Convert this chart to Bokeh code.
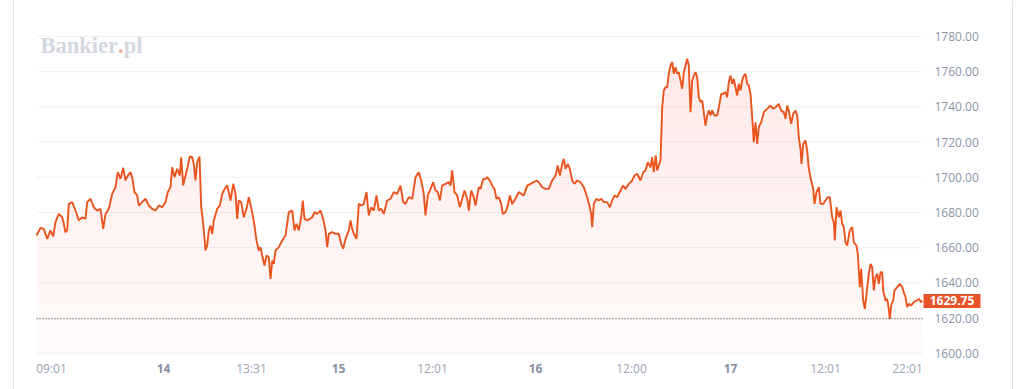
import numpy as np
from bokeh.plotting import figure
from bokeh.models import Range1d, Span
from bokeh.core.properties import value
from bokeh.embed import file_html
from bokeh.resources import INLINE

# session index (trading-time axis) and price
t = [0.0, 4.0, 7.3, 10.7, 14.0, 16.7, 19.0, 22.3, 25.7, 27.3,
     29.0, 30.7, 32.3, 35.7, 39.0, 42.3, 45.7, 49.0, 50.7, 54.0,
     57.3, 60.7, 64.0, 66.7, 69.0, 72.3, 75.7, 79.0, 81.3, 84.0,
     86.7, 89.0, 91.3, 94.0, 95.7, 98.0, 100.7, 102.3, 105.7, 109.0,
     112.3, 115.7, 119.0, 122.3, 125.7, 129.0, 131.3, 134.0, 135.7, 138.0,
     140.7, 143.3, 144.7, 146.7, 149.0, 150.7, 153.3, 155.7, 157.3, 159.0,
     160.7, 163.0, 164.7, 166.7, 169.0, 170.7, 172.3, 174.0, 175.7, 177.3,
     180.7, 183.3, 185.7, 187.3, 190.7, 192.3, 194.0, 196.7, 199.0, 200.7,
     202.3, 204.7, 207.3, 210.0, 212.3,
     215.7, 218.0, 220.0, 222.3, 224.0, 225.7, 228.0, 230.0, 232.3, 234.0,
     235.7, 237.3, 239.0, 242.3, 245.7, 249.0, 252.3, 255.7, 258.0, 260.0,
     262.3, 264.7, 266.3, 268.0, 270.7, 273.3, 275.7, 278.0, 280.7, 284.0,
     286.7, 289.0, 290.7, 292.3, 295.7, 299.0, 302.3, 304.7, 306.7, 309.0,
     312.3, 314.0, 315.7, 317.3, 320.0, 322.3, 324.7, 327.3, 330.0, 332.3,
     334.7, 337.3, 340.0, 342.3, 344.7, 347.3, 350.7, 354.0, 357.3, 360.7,
     364.0, 366.7, 369.0, 372.3, 375.7, 379.0, 382.3, 384.7, 387.3, 389.0,
     391.3, 394.0, 396.7, 399.0, 401.3, 403.3, 405.7, 409.0, 412.3, 414.0,
     415.7, 418.0, 420.7, 423.3, 425.7, 428.0, 430.7, 432.3, 434.7, 437.3,
     439.0, 442.3, 444.0,
     446.7, 449.0, 450.7, 453.3, 455.7, 458.0, 460.0, 462.3, 464.7, 466.3,
     469.0, 471.3, 473.3, 475.7, 479.0, 482.3, 484.7, 487.3, 490.7, 494.0,
     497.3, 500.0, 502.3, 505.7, 509.0, 512.3, 515.7, 519.0, 521.3, 523.3,
     525.7, 527.3, 529.0, 531.3, 533.3, 535.7, 538.0, 540.7, 544.0, 547.3,
     550.7, 553.3, 554.7, 555.7, 557.3, 560.0, 562.3, 564.7, 567.3, 570.7,
     573.3, 575.7, 578.0, 580.7, 584.0, 586.7, 589.0, 592.3, 595.7, 598.0,
     600.7, 604.0, 606.7, 609.0, 611.3, 614.0, 615.7, 617.3, 619.3, 620.7,
     622.3, 624.0, 625.7, 627.3, 629.0, 630.7, 632.3, 634.0, 635.7, 637.3,
     639.0, 640.7, 642.3, 644.0, 645.7, 647.3, 649.0, 650.7, 652.3, 654.0,
     655.7, 657.3, 659.0, 660.7, 662.3, 664.0, 665.7, 667.3, 669.0, 670.7,
     672.3, 674.0, 675.7, 678.0, 680.7, 683.3, 684.7, 686.7, 689.0, 690.7,
     692.3, 694.0, 695.7, 697.3, 699.0, 700.7, 702.3, 704.0, 705.7, 707.3,
     709.0, 710.7, 712.3, 714.0, 715.7, 717.3, 719.0, 720.7, 722.3, 724.7,
     727.3, 730.7, 734.0, 736.7, 739.0, 742.3, 744.7, 747.3, 749.0, 750.7,
     752.3, 754.7, 756.7, 759.0, 760.7, 762.3, 764.0, 765.0, 766.7, 769.0,
     770.7, 772.3, 774.7, 776.7, 778.0, 780.0, 782.3, 784.0, 786.7, 789.0,
     791.3, 793.3, 795.7, 797.3, 798.3, 800.0, 802.3, 804.0, 805.7, 807.3,
     809.0, 810.7, 813.3, 815.7, 817.3, 820.0, 821.3, 823.3, 824.7, 826.7,
     828.3, 830.0, 832.3, 834.0, 835.7, 837.3, 839.0, 840.7, 842.3, 844.0,
     845.7, 846.7, 849.0, 850.7, 852.3, 853.3, 855.0, 856.7, 858.0, 860.7,
     863.3, 865.7, 867.3, 869.0, 870.7, 872.3, 874.7, 877.3, 880.0, 882.3,
     884.7, 885.7]

price = [1666.9, 1671.3, 1670.7, 1665.0, 1669.8, 1666.4, 1674.5, 1679.2, 1677.3, 1673.6,
         1668.8, 1669.8, 1684.9, 1685.9, 1681.1, 1675.5, 1677.3, 1676.4, 1685.9, 1687.8,
         1683.0, 1681.1, 1682.1, 1670.7, 1679.2, 1682.1, 1690.6, 1694.4, 1702.9, 1699.1,
         1705.4, 1698.2, 1701.0, 1702.9, 1700.1, 1691.6, 1689.7, 1684.0, 1685.9, 1687.8,
         1684.0, 1682.1, 1681.1, 1684.0, 1683.0, 1685.9, 1691.6, 1694.4, 1705.7, 1700.1,
         1704.8, 1701.0, 1711.4, 1695.4, 1701.0, 1704.8, 1711.8, 1711.4, 1707.7, 1698.2,
         1708.6, 1711.8, 1683.0, 1673.6, 1658.4, 1661.3, 1669.8, 1672.6, 1667.9, 1675.5,
         1682.1, 1684.0, 1690.6, 1692.5, 1695.4, 1691.6, 1686.8, 1696.3, 1690.6, 1676.4,
         1686.8, 1685.9, 1677.3, 1682.1, 1688.7,
         1680.2, 1672.6, 1664.1, 1658.4, 1660.3, 1655.6, 1649.9, 1655.6, 1654.6, 1642.3,
         1652.7, 1650.8, 1658.4, 1660.3, 1664.1, 1666.9, 1680.2, 1681.1, 1669.8, 1673.6,
         1669.8, 1677.3, 1686.8, 1676.4, 1675.5, 1676.4, 1677.3, 1680.2, 1679.2, 1681.1,
         1676.4, 1669.8, 1660.3, 1667.9, 1668.8, 1667.9, 1667.9, 1662.2, 1659.4, 1665.0,
         1669.8, 1675.5, 1670.7, 1667.9, 1665.0, 1684.9, 1684.0, 1684.9, 1691.6, 1678.3,
         1683.0, 1681.1, 1689.7, 1681.1, 1682.1, 1679.2, 1686.8, 1687.8, 1691.6, 1690.6,
         1695.3, 1685.9, 1684.9, 1688.7, 1687.8, 1700.1, 1702.9, 1698.2, 1690.6, 1678.3,
         1689.7, 1693.4, 1697.2, 1692.5, 1691.6, 1686.8, 1695.3, 1696.3, 1697.2, 1695.3,
         1703.9, 1691.6, 1689.7, 1683.0, 1687.8, 1692.5, 1687.8, 1681.1, 1692.5, 1688.7,
         1684.0, 1694.4, 1693.4,
         1699.1, 1699.1, 1700.1, 1698.2, 1695.3, 1693.4, 1687.8, 1688.7, 1684.9, 1679.2,
         1680.2, 1683.9, 1689.7, 1684.9, 1687.8, 1691.6, 1690.6, 1689.7, 1695.3, 1696.3,
         1697.2, 1698.2, 1697.2, 1694.4, 1693.4, 1693.4, 1698.2, 1701.0, 1706.7, 1701.0,
         1707.6, 1710.5, 1704.8, 1707.6, 1704.8, 1698.2, 1696.3, 1698.2, 1697.2, 1694.4,
         1688.7, 1683.0, 1679.2, 1671.7, 1684.9, 1687.8, 1686.8, 1687.8, 1685.9, 1685.9,
         1683.0, 1686.8, 1689.7, 1688.7, 1692.5, 1695.3, 1693.4, 1696.3, 1698.2, 1701.0,
         1702.0, 1698.2, 1702.9, 1703.9, 1708.6, 1705.7, 1711.4, 1702.9, 1712.4, 1703.9,
         1706.7, 1709.5, 1739.8, 1749.3, 1751.2, 1751.2, 1758.8, 1763.5, 1765.4, 1758.8,
         1762.6, 1758.8, 1759.7, 1755.0, 1750.3, 1759.7, 1763.5, 1767.3, 1763.5, 1737.0,
         1755.0, 1757.8, 1759.7, 1756.9, 1745.5, 1742.7, 1743.6, 1737.0, 1729.4, 1735.1,
         1738.0, 1735.1, 1738.0, 1735.1, 1735.1, 1742.7, 1747.4, 1747.4, 1748.4, 1745.5,
         1754.1, 1757.8, 1753.1, 1755.9, 1751.2, 1746.5, 1753.1, 1749.3, 1755.0, 1757.8,
         1758.8, 1753.1, 1752.2, 1747.4, 1734.2, 1720.0, 1731.3, 1719.0, 1728.5, 1731.3,
         1737.0, 1738.9, 1740.8, 1738.9, 1739.8, 1741.7, 1737.9, 1737.0, 1733.2, 1740.8,
         1737.9, 1730.4, 1736.1, 1737.9, 1735.1, 1722.8, 1716.2, 1707.6, 1719.0, 1720.9,
         1715.2, 1704.8, 1698.2, 1693.4, 1684.9, 1691.6, 1694.4, 1684.9, 1684.9, 1686.8,
         1688.7, 1688.7, 1677.3, 1674.5, 1664.1, 1683.0, 1677.3, 1681.1, 1673.6, 1671.7,
         1663.1, 1661.2, 1669.8, 1671.7, 1663.1, 1661.2, 1656.5, 1637.6, 1648.0, 1630.0,
         1625.3, 1633.8, 1645.2, 1650.8, 1648.9, 1635.7, 1643.3, 1645.2, 1639.5, 1646.1,
         1646.1, 1635.7, 1630.0, 1630.9, 1625.3, 1619.6, 1628.1, 1630.0, 1635.7, 1637.6,
         1639.5, 1637.6, 1634.7, 1631.9, 1626.2, 1628.1, 1627.2, 1629.1, 1630.0, 1630.9,
         1629.1, 1629.75]

x_tick_pos = [15, 127, 215, 302, 396, 499, 595, 694, 789, 871]
x_tick_labels = ["09:01", "14", "13:31", "15", "12:01", "16", "12:00", "17", "12:01", "22:01"]
day_labels = ["14", "15", "16", "17"]
y_ticks = [1600, 1620, 1640, 1660, 1680, 1700, 1720, 1740, 1760, 1780]
y_tick_labels = [f"{v:.2f}" for v in y_ticks]

# ---- layout constants (pixels) ----
W, H = 1024, 389
PLOT_LEFT = 36          # pixel where t=0 sits
PLOT_W = 886            # plotted width in t units (1 unit = 1 px)
PX_PER_VAL = 1.76       # vertical pixels per price unit
TOP_GRID_PX = 36        # pixel of the top grid line from canvas top
TOP_VAL = y_ticks[-1]


def val_at(px_from_top):
    return TOP_VAL - (px_from_top - TOP_GRID_PX) / PX_PER_VAL


ORANGE = "#e9541f"
FONT = value("Open Sans")

t_arr = np.array(t)
p_arr = np.array(price)
base = y_ticks[0]

p = figure(width=W, height=H,
           x_range=Range1d(-PLOT_LEFT, W - PLOT_LEFT),
           y_range=Range1d(val_at(H), val_at(0)),
           output_backend="svg", toolbar_location=None,
           x_axis_location=None, y_axis_location=None,
           min_border=0)
p.background_fill_color = "white"
p.border_fill_color = "white"
p.outline_line_color = None
p.grid.visible = False

# container borders
for bx in (13 - PLOT_LEFT, 1012 - PLOT_LEFT):
    p.add_layout(Span(location=bx, dimension="height", line_color="#e4e4e4", line_width=1))

# horizontal grid lines
p.segment(x0=0, x1=PLOT_W, y0=y_ticks, y1=y_ticks, line_color="#f1f1f1", line_width=1)

# gradient-like fill under the line
p.varea(x=t_arr, y1=base, y2=p_arr, fill_color=ORANGE, fill_alpha=0.016)
for lvl in np.arange(base, TOP_VAL, 9):
    p.varea(x=t_arr, y1=lvl, y2=np.maximum(p_arr, lvl), fill_color=ORANGE, fill_alpha=0.0058)

p.line(t_arr, p_arr, line_color=ORANGE, line_width=1.9)

# minimum dotted line
pmin = float(p_arr.min())
p.segment(x0=[0], x1=[PLOT_W], y0=[pmin], y1=[pmin],
          line_color="#2f3a4f", line_dash="1 2", line_width=1)

# y labels (right)
p.text(x=[PLOT_W + 12] * len(y_ticks), y=y_ticks, text=y_tick_labels,
       text_font=FONT, text_font_size="12px", text_color="#8a94a6",
       text_align="left", text_baseline="middle")

# last value tag
half = 7 / PX_PER_VAL
p.quad(left=[PLOT_W + 1], right=[PLOT_W + 58], bottom=[price[-1] - half], top=[price[-1] + half],
       fill_color="#e8542a", line_color=None)
p.text(x=[PLOT_W + 29.5], y=[price[-1]], text=[f"{price[-1]:.2f}"],
       text_font=FONT, text_font_size="12px", text_font_style="bold",
       text_color="white", text_align="center", text_baseline="middle")

# x labels (days bold)
label_y = val_at(368)
times = [(x, l) for x, l in zip(x_tick_pos, x_tick_labels) if l not in day_labels]
days = [(x, l) for x, l in zip(x_tick_pos, x_tick_labels) if l in day_labels]
p.text(x=[a for a, _ in times], y=[label_y] * len(times), text=[b for _, b in times],
       text_font=FONT, text_font_size="12px", text_color="#9aa3b2",
       text_align="center", text_baseline="middle")
p.text(x=[a for a, _ in days], y=[label_y] * len(days), text=[b for _, b in days],
       text_font=FONT, text_font_size="12px", text_font_style="bold", text_color="#8791a2",
       text_align="center", text_baseline="middle")

# logo
logo_y = val_at(45)
fs = 22.5
serif = value("Liberation Serif")
p.text(x=[4], y=[logo_y], text=["Bankier"], text_font=serif, text_font_style="bold",
       text_font_size=f"{fs}px", text_color="#d3d8e0", text_baseline="alphabetic")
p.text(x=[4 + 3.445 * fs], y=[logo_y], text=["."], text_font=serif, text_font_style="bold",
       text_font_size=f"{fs}px", text_color="#f3ac93", text_baseline="alphabetic")
p.text(x=[4 + 3.695 * fs], y=[logo_y], text=["pl"], text_font=serif, text_font_style="bold",
       text_font_size=f"{fs}px", text_color="#d3d8e0", text_baseline="alphabetic")

open("out.html", "w").write(file_html(p, INLINE))
